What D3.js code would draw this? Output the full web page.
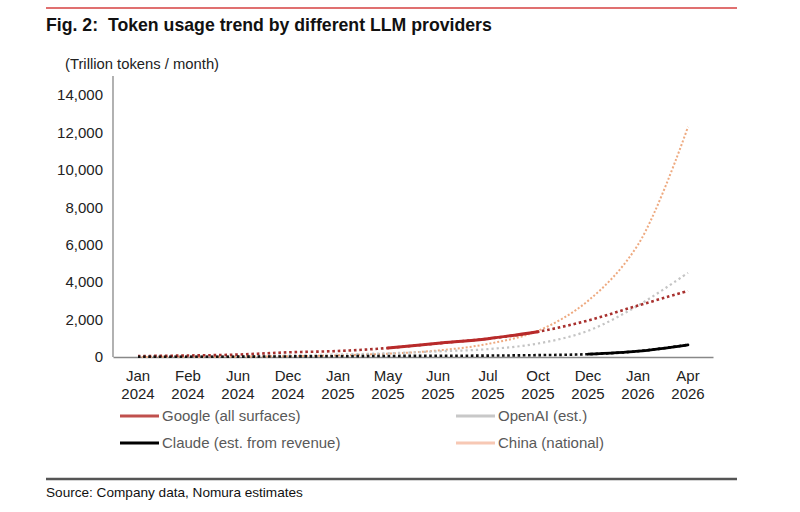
<!DOCTYPE html>
<html><head><meta charset="utf-8">
<script src="https://cdn.jsdelivr.net/npm/d3@7"></script>
<style>
body{margin:0;background:#fff;}
svg{font-family:"Liberation Sans",Arial,sans-serif;}
</style></head>
<body>
<svg id="c" width="800" height="512"></svg>
<script>
const categories = ["Jan 2024","Feb 2024","Jun 2024","Dec 2024","Jan 2025","May 2025","Jun 2025","Jul 2025","Oct 2025","Dec 2025","Jan 2026","Apr 2026"];
const google = [50, 80, 130, 250, 320, 480, 730, 980, 1350, 1950, 2750, 3530];
const openai = [20, 30, 50, 90, 130, 200, 300, 420, 720, 1400, 2750, 4500];
const claude = [10, 12, 18, 30, 40, 55, 65, 75, 100, 150, 310, 650];
const china = [5, 10, 20, 45, 90, 180, 350, 700, 1400, 3000, 6000, 12300];
const yTicks = [0, 2000, 4000, 6000, 8000, 10000, 12000, 14000];
const googleSolid = [5, 8];   // index range of reported (solid) values
const claudeSolid = [9, 11];

const svg = d3.select("#c");
const x = d3.scaleBand().domain(categories).range([113, 713]).padding(0);
const y = d3.scaleLinear().domain([0, 14000]).range([357, 95]);
const cx = c => x(c) + x.bandwidth() / 2;

// top rule and title
svg.append("line").attr("x1", 46).attr("x2", 737).attr("y1", 8).attr("y2", 8)
  .attr("stroke", "#e07070").attr("stroke-width", 2);
svg.append("text").attr("x", 46).attr("y", 31).attr("font-size", 17.7).attr("font-weight", "bold")
  .attr("fill", "#111").style("white-space", "pre")
  .text("Fig. 2:  Token usage trend by different LLM providers");
svg.append("text").attr("x", 65).attr("y", 69).attr("font-size", 14.8).attr("fill", "#222")
  .text("(Trillion tokens / month)");

// y axis
const ya = svg.append("g").attr("transform", "translate(113,0)")
  .call(d3.axisLeft(y).tickValues(yTicks).tickSize(0).tickPadding(10).tickFormat(d3.format(",")));
ya.select(".domain").remove();
ya.selectAll("text").attr("font-size", 15).attr("fill", "#222").attr("font-family", "Liberation Sans, Arial, sans-serif");
svg.append("line").attr("x1", 113).attr("x2", 113).attr("y1", 76).attr("y2", 357)
  .attr("stroke", "#888").attr("stroke-width", 1.3);

// x axis
const xa = svg.append("g").attr("transform", "translate(0,357)")
  .call(d3.axisBottom(x).tickSize(0).tickFormat(""));
xa.select(".domain").attr("stroke", "#888").attr("stroke-width", 1.3);
xa.selectAll(".tick").each(function(d) {
  const parts = d.split(" ");
  const t = d3.select(this).append("text").attr("fill", "#222").attr("font-size", 15)
    .attr("text-anchor", "middle").attr("font-family", "Liberation Sans, Arial, sans-serif");
  t.append("tspan").attr("x", 0).attr("y", 24).text(parts[0]);
  t.append("tspan").attr("x", 0).attr("y", 42).text(parts[1]);
});

const line = d3.line().x((d) => cx(categories[d.i])).y(d => y(d.v)).curve(d3.curveCatmullRom.alpha(0.5));
const pts = arr => arr.map((v, i) => ({i, v}));
const seg = (arr, r) => pts(arr).slice(r[0], r[1] + 1);

function dotted(arr, color, w, dash) {
  svg.append("path").attr("d", line(pts(arr))).attr("fill", "none")
    .attr("stroke", color).attr("stroke-width", w).attr("stroke-dasharray", dash);
}
function solid(data, color, w) {
  svg.append("path").attr("d", line(data)).attr("fill", "none")
    .attr("stroke", color).attr("stroke-width", w).attr("stroke-linecap", "round");
}

dotted(china, "#eeaa80", 2, "2,2");
dotted(openai, "#c4c4c4", 2.2, "2.2,3");
dotted(google, "#a8302e", 2.6, "2.6,2.8");
solid(seg(google, googleSolid), "#b82a2a", 3);
dotted(claude, "#111", 2.6, "2.6,2.6");
solid(seg(claude, claudeSolid), "#000", 2.7);

// legend
const legend = [
  {name: "Google (all surfaces)", color: "#c0504d", x: 120, y: 416},
  {name: "OpenAI (est.)", color: "#c8c8c8", x: 456, y: 416},
  {name: "Claude (est. from revenue)", color: "#000", x: 120, y: 443},
  {name: "China (national)", color: "#f7c8b4", x: 456, y: 443}
];
legend.forEach(l => {
  svg.append("line").attr("x1", l.x).attr("x2", l.x + 39).attr("y1", l.y).attr("y2", l.y)
    .attr("stroke", l.color).attr("stroke-width", 3);
  svg.append("text").attr("x", l.x + 42).attr("y", l.y + 5).attr("font-size", 15)
    .attr("fill", "#595959").text(l.name);
});

// bottom rule and source
svg.append("line").attr("x1", 46).attr("x2", 737).attr("y1", 479).attr("y2", 479)
  .attr("stroke", "#555").attr("stroke-width", 2.5);
svg.append("text").attr("x", 46).attr("y", 497).attr("font-size", 13.6).attr("fill", "#111")
  .text("Source: Company data, Nomura estimates");
</script>
</body></html>
